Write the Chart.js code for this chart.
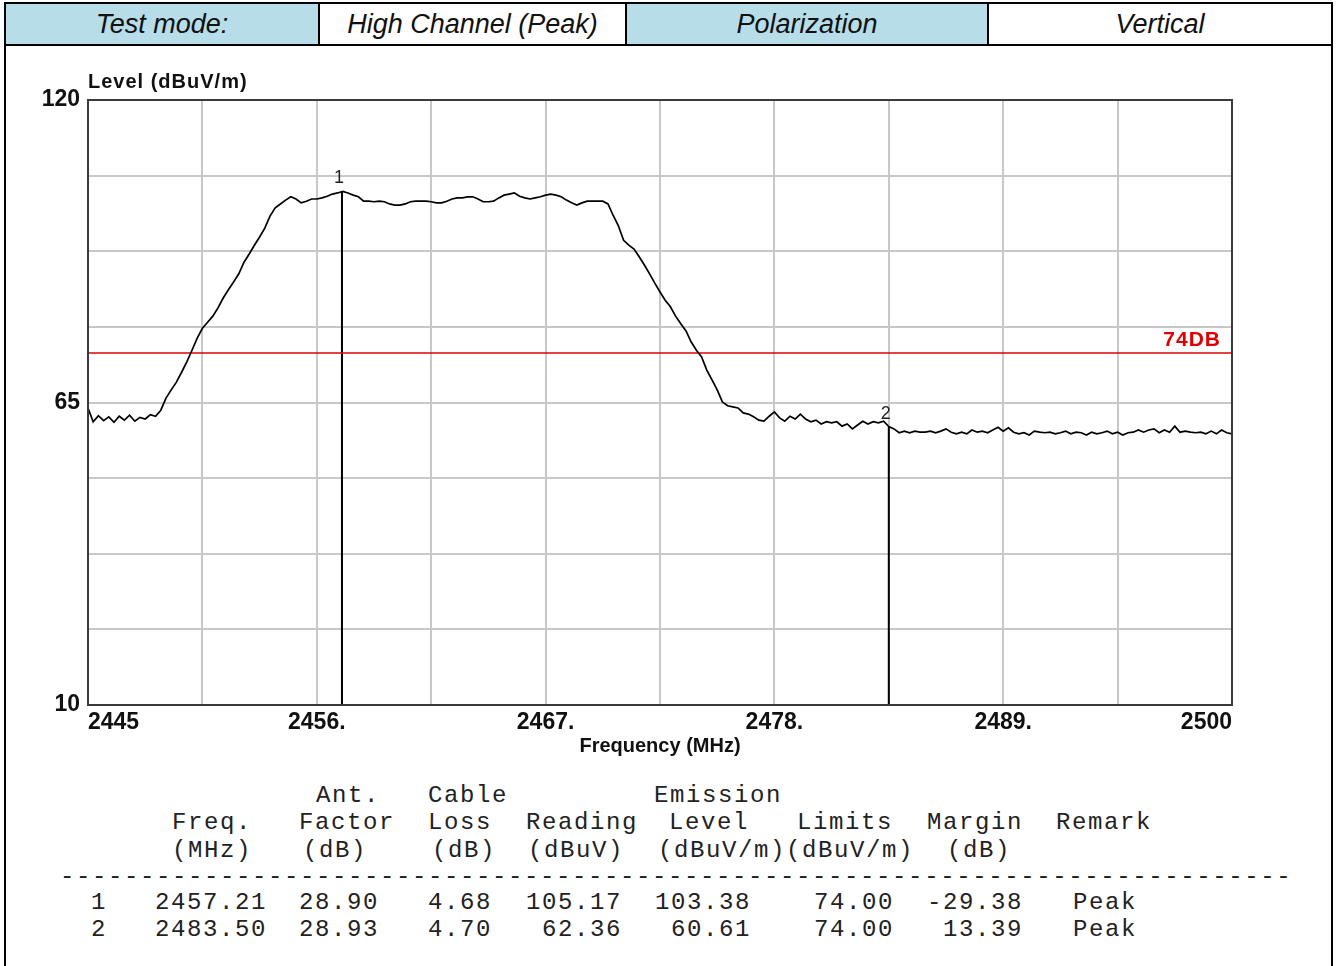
<!DOCTYPE html>
<html>
<head>
<meta charset="utf-8">
<title>High Channel (Peak) - Vertical</title>
<script src="https://cdn.jsdelivr.net/npm/chart.js@4.4.1/dist/chart.umd.min.js"></script>
<style>
  html, body { margin: 0; padding: 0; background: #fff; }
  body { width: 1338px; height: 966px; position: relative; overflow: hidden; font-family: "Liberation Sans", Arial, sans-serif; }
  .cell { position: absolute; top: 2px; height: 44px; border: 2px solid #000; box-sizing: border-box;
          display: flex; align-items: center; justify-content: center;
          font-style: italic; font-size: 27px; color: #111; }
  .blue { background: #b7dde8; }
  .frame { position: absolute; left: 4px; top: 44px; width: 1329px; height: 960px; border: 2px solid #000; box-sizing: border-box; }
  #chart { position: absolute; left: 0; top: 50px; }
  .mono { position: absolute; font-family: "Liberation Mono", "Courier New", monospace; font-size: 24px;
          letter-spacing: 1.6px; line-height: 26px; color: #222; white-space: pre; }
</style>
</head>
<body>
<div class="frame"></div>
<div class="cell blue" style="left:4px;width:316px;">Test mode:</div>
<div class="cell" style="left:318px;width:309px;">High Channel (Peak)</div>
<div class="cell blue" style="left:625px;width:364px;">Polarization</div>
<div class="cell" style="left:987px;width:346px;">Vertical</div>
<canvas id="chart" width="1338" height="720"></canvas>
<div id="table"></div>
<script>
// sweep points (MHz)
const traceFreq = [
  2445, 2445.25, 2445.5, 2445.75,  2446, 2446.25, 2446.5, 2446.75,
  2447, 2447.25, 2447.5, 2447.75,  2448, 2448.25, 2448.5, 2448.75,
  2449, 2449.25, 2449.5, 2449.75,  2450, 2450.25, 2450.5, 2450.75,
  2451, 2451.25, 2451.5, 2451.75,  2452, 2452.25, 2452.5, 2452.75,
  2453, 2453.25, 2453.5, 2453.75,  2454, 2454.25, 2454.5, 2454.75,
  2455, 2455.25, 2455.5, 2455.75,  2456, 2456.25, 2456.5, 2456.75,
  2457, 2457.25, 2457.5, 2457.75,  2458, 2458.25, 2458.5, 2458.75,
  2459, 2459.25, 2459.5, 2459.75,  2460, 2460.25, 2460.5, 2460.75,
  2461, 2461.25, 2461.5, 2461.75,  2462, 2462.25, 2462.5, 2462.75,
  2463, 2463.25, 2463.5, 2463.75,  2464, 2464.25, 2464.5, 2464.75,
  2465, 2465.25, 2465.5, 2465.75,  2466, 2466.25, 2466.5, 2466.75,
  2467, 2467.25, 2467.5, 2467.75,  2468, 2468.25, 2468.5, 2468.75,
  2469, 2469.25, 2469.5, 2469.75,  2470, 2470.25, 2470.5, 2470.75,
  2471, 2471.25, 2471.5, 2471.75,  2472, 2472.25, 2472.5, 2472.75,
  2473, 2473.25, 2473.5, 2473.75,  2474, 2474.25, 2474.5, 2474.75,
  2475, 2475.25, 2475.5, 2475.75,  2476, 2476.25, 2476.5, 2476.75,
  2477, 2477.25, 2477.5, 2477.75,  2478, 2478.25, 2478.5, 2478.75,
  2479, 2479.25, 2479.5, 2479.75,  2480, 2480.25, 2480.5, 2480.75,
  2481, 2481.25, 2481.5, 2481.75,  2482, 2482.25, 2482.5, 2482.75,
  2483, 2483.25, 2483.5, 2483.75,  2484, 2484.25, 2484.5, 2484.75,
  2485, 2485.25, 2485.5, 2485.75,  2486, 2486.25, 2486.5, 2486.75,
  2487, 2487.25, 2487.5, 2487.75,  2488, 2488.25, 2488.5, 2488.75,
  2489, 2489.25, 2489.5, 2489.75,  2490, 2490.25, 2490.5, 2490.75,
  2491, 2491.25, 2491.5, 2491.75,  2492, 2492.25, 2492.5, 2492.75,
  2493, 2493.25, 2493.5, 2493.75,  2494, 2494.25, 2494.5, 2494.75,
  2495, 2495.25, 2495.5, 2495.75,  2496, 2496.25, 2496.5, 2496.75,
  2497, 2497.25, 2497.5, 2497.75,  2498, 2498.25, 2498.5, 2498.75,
  2499, 2499.25, 2499.5, 2499.75,  2500
];

// measured level (dBuV/m), one value per sweep point
const traceLevel = [
  64.0, 61.5, 62.6, 61.7,   62.4, 61.4, 62.5, 61.8,
  62.7, 61.6, 62.3, 62.0,   62.8, 62.5, 63.6, 65.8,
  67.3, 68.7, 70.5, 72.4,   74.5, 76.7, 78.5, 79.6,
  80.7, 82.2, 84.0, 85.5,   86.9, 88.4, 90.5, 92.0,
  93.6, 95.1, 96.7, 98.9,   100.4, 101.1, 101.8, 102.4,
  102.0, 101.3, 101.6, 102.0,   102.0, 102.2, 102.5, 102.9,
  103.1, 103.38, 103.1, 102.7,  102.4, 101.6, 101.6, 101.5,
  101.6, 101.5, 101.1, 100.9,   100.9, 101.1, 101.5, 101.6,
  101.6, 101.6, 101.5, 101.3,   101.3, 101.6, 102.0, 102.2,
  102.2, 102.4, 102.4, 102.0,   101.5, 101.5, 101.6, 102.2,
  102.7, 102.9, 103.1, 102.5,   102.2, 102.0, 102.2, 102.4,
  102.7, 102.9, 102.7, 102.4,   101.8, 101.3, 100.9, 101.3,
  101.6, 101.6, 101.6, 101.6,   101.1, 99.0, 97.1, 94.5,
  93.6, 92.9, 91.5, 90.0,   88.4, 86.7, 85.1, 83.6,
  82.4, 80.7, 79.3, 78.0,   76.0, 74.5, 73.3, 70.9,
  69.1, 67.3, 65.1, 64.4,   64.2, 64.0, 63.1, 62.9,
  62.4, 61.8, 61.6, 62.5,   63.3, 62.2, 61.6, 62.5,
  62.0, 62.9, 62.0, 61.5,   61.8, 61.1, 61.5, 61.3,
  61.5, 60.7, 61.1, 60.2,   60.9, 61.6, 61.1, 61.5,
  61.3, 61.6, 60.61, 60.2,  59.5, 59.8, 59.5, 59.8,
  59.6, 59.6, 59.8, 59.5,   59.8, 60.2, 59.6, 59.3,
  59.6, 59.3, 60.0, 59.6,   59.8, 59.5, 60.0, 60.5,
  59.8, 60.4, 59.6, 59.3,   59.5, 59.1, 59.8, 59.6,
  59.5, 59.6, 59.3, 59.5,   59.8, 59.3, 59.6, 59.5,
  59.1, 59.6, 59.3, 59.5,   59.8, 59.3, 59.6, 59.1,
  59.5, 59.6, 60.0, 59.6,   60.0, 60.2, 59.5, 60.0,
  59.6, 60.7, 59.6, 59.8,   59.6, 59.5, 59.6, 59.3,
  59.8, 59.3, 60.0, 59.5,   59.3
];

const limitLevel = 74;
const limitLabel = '74DB';

// marker table
const markerNo = ['1', '2'];
const markerFreq = [2457.21, 2483.50];
const antFactor = [28.90, 28.93];
const cableLoss = [4.68, 4.70];
const reading = [105.17, 62.36];
const emissionLevel = [103.38, 60.61];
const limits = [74.00, 74.00];
const margin = [-29.38, 13.39];
const remark = ['Peak', 'Peak'];

// axes
const xTickValues = [2445, 2456, 2467, 2478, 2489, 2500];
const xTickText = ['2445', '2456.', '2467.', '2478.', '2489.', '2500'];
const yTickValues = [10, 65, 120];

const BOLD = '"Liberation Sans", Arial, sans-serif';

// text that sits on the plot: caption, limit tag, marker numbers, frame
const plotText = {
    id: 'plotText',
    afterDatasetsDraw(chart) {
        const { ctx, chartArea, scales: { x, y } } = chart;
        ctx.save();

        ctx.strokeStyle = '#3a3a3a';
        ctx.lineWidth = 2;
        ctx.strokeRect(chartArea.left, chartArea.top, chartArea.width, chartArea.height);

        ctx.letterSpacing = '1px';
        ctx.font = 'bold 20px ' + BOLD;
        ctx.fillStyle = '#111';
        ctx.textAlign = 'left';
        ctx.textBaseline = 'middle';
        ctx.fillText('Level (dBuV/m)', chartArea.left, chartArea.top - 18);

        ctx.font = 'bold 21px ' + BOLD;
        ctx.fillStyle = '#e00000';
        ctx.textAlign = 'right';
        ctx.fillText(limitLabel, chartArea.right - 11, y.getPixelForValue(limitLevel) - 13);

        ctx.letterSpacing = '0px';
        ctx.font = '18px ' + BOLD;
        ctx.fillStyle = '#222';
        ctx.textAlign = 'center';
        ctx.textBaseline = 'bottom';
        markerNo.forEach((n, i) => {
            ctx.fillText(n, x.getPixelForValue(markerFreq[i]) - 3, y.getPixelForValue(emissionLevel[i]) - 4);
        });
        ctx.restore();
    }
};

const datasets = [{
    data: traceFreq.map((f, i) => ({ x: f, y: traceLevel[i] })),
    borderColor: '#000',
    borderWidth: 1.7,
    pointRadius: 0,
    tension: 0
}, {
    data: [{ x: xTickValues[0], y: limitLevel }, { x: xTickValues[xTickValues.length - 1], y: limitLevel }],
    borderColor: '#e00000',
    borderWidth: 1.5,
    pointRadius: 0
}];

// vertical marker lines from the marked level down to the floor
markerFreq.forEach((f, i) => {
    datasets.push({
        data: [{ x: f, y: emissionLevel[i] }, { x: f, y: yTickValues[0] }],
        borderColor: '#000',
        borderWidth: 2,
        pointRadius: 0
    });
});

new Chart(document.getElementById('chart'), {
    type: 'line',
    data: { datasets },
    options: {
        responsive: false,
        animation: false,
        layout: { padding: { left: 0, top: 50, right: 106, bottom: 0 } },
        plugins: { legend: { display: false }, tooltip: { enabled: false } },
        scales: {
            x: {
                type: 'linear',
                min: xTickValues[0],
                max: xTickValues[xTickValues.length - 1],
                afterFit: (s) => { s.height = 65; },
                grid: { color: '#c8c8c8', lineWidth: 2, drawTicks: false },
                border: { display: false },
                ticks: {
                    stepSize: 5.5,
                    autoSkip: false,
                    maxRotation: 0,
                    align: 'inner',
                    padding: 4,
                    color: '#111',
                    font: { family: BOLD, size: 23, weight: 'bold' },
                    callback: (v) => {
                        const k = xTickValues.indexOf(v);
                        return k >= 0 ? xTickText[k] : '';
                    }
                },
                title: {
                    display: true,
                    text: 'Frequency (MHz)',
                    color: '#111',
                    font: { family: BOLD, size: 20, weight: 'bold' },
                    padding: { top: 0, bottom: 12 }
                }
            },
            y: {
                type: 'linear',
                min: yTickValues[0],
                max: yTickValues[yTickValues.length - 1],
                afterFit: (s) => { s.width = 88; },
                grid: { color: '#c8c8c8', lineWidth: 2, drawTicks: false },
                border: { display: false },
                ticks: {
                    stepSize: 13.75,
                    autoSkip: false,
                    padding: 8,
                    color: '#111',
                    font: { family: BOLD, size: 23, weight: 'bold' },
                    callback: (v) => yTickValues.includes(v) ? String(v) : ''
                }
            }
        }
    },
    plugins: [plotText]
});

// marker summary table under the plot
const PITCH = 16;
const rowY = [796, 823, 851, 877, 903, 930];
const table = document.getElementById('table');

function put(text, left, row) {
    const s = document.createElement('span');
    s.className = 'mono';
    s.textContent = text;
    s.style.left = left + 'px';
    s.style.top = (rowY[row] - 13) + 'px';
    table.appendChild(s);
}

const headWords = [
    ['Ant.', 316, 0], ['Cable', 428, 0], ['Emission', 654, 0],
    ['Freq.', 172, 1], ['Factor', 299, 1], ['Loss', 428, 1], ['Reading', 526, 1],
    ['Level', 669, 1], ['Limits', 797, 1], ['Margin', 927, 1], ['Remark', 1056, 1],
    ['(MHz)', 172, 2], ['(dB)', 303, 2], ['(dB)', 432, 2], ['(dBuV)', 528, 2],
    ['(dBuV/m)', 658, 2], ['(dBuV/m)', 786, 2], ['(dB)', 947, 2]
];
headWords.forEach(([t, l, r]) => put(t, l, r));
put('-'.repeat(77), 60, 3);

// numeric columns are right-aligned on these edges
const colRight = [107, 267, 379, 492, 622, 751, 894, 1023];
markerNo.forEach((n, i) => {
    const cells = [n, markerFreq[i].toFixed(2), antFactor[i].toFixed(2), cableLoss[i].toFixed(2),
        reading[i].toFixed(2), emissionLevel[i].toFixed(2), limits[i].toFixed(2), margin[i].toFixed(2)];
    cells.forEach((t, c) => put(t, colRight[c] - t.length * PITCH, 4 + i));
    put(remark[i], 1073, 4 + i);
});
</script>
</body>
</html>
